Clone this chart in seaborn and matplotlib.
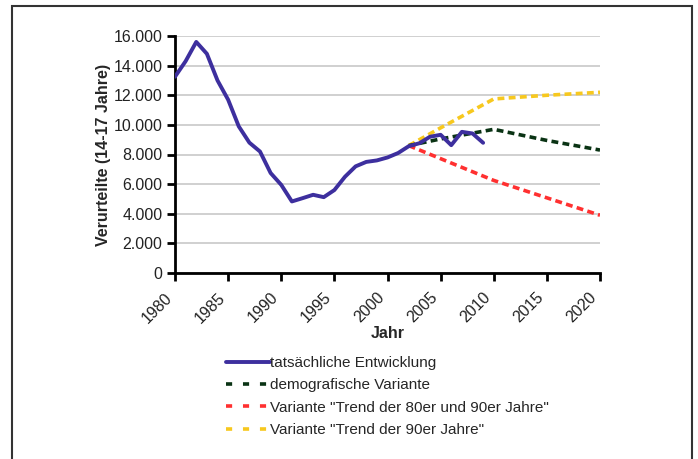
import matplotlib
matplotlib.use("Agg")
import matplotlib.pyplot as plt
import matplotlib.transforms as mtransforms
import seaborn as sns
import pandas as pd
from matplotlib.patches import Rectangle
from matplotlib.ticker import FuncFormatter

# Data
years_actual = [1980, 1981, 1982, 1983, 1984, 1985, 1986, 1987, 1988, 1989,
                1990, 1991, 1992, 1993, 1994, 1995, 1996, 1997, 1998, 1999,
                2000, 2001, 2002, 2003, 2004, 2005, 2006, 2007, 2008, 2009]
actual = [13250, 14300, 15600, 14800, 13000, 11700, 9900, 8800, 8200, 6750,
          5950, 4830, 5050, 5280, 5120, 5600, 6500, 7200, 7500, 7600,
          7800, 8100, 8560, 8760, 9200, 9330, 8630, 9530, 9420, 8790]

years_demo = [2002, 2005, 2010, 2015, 2020]
demo = [8600, 9050, 9700, 8950, 8300]

years_trend8090 = [2002, 2010, 2020]
trend8090 = [8600, 6250, 3900]

years_trend90 = [2002, 2005, 2010, 2015, 2020]
trend90 = [8600, 9800, 11750, 12000, 12200]

labels = ["tatsächliche Entwicklung", "demografische Variante",
          'Variante "Trend der 80er und 90er Jahre"',
          'Variante "Trend der 90er Jahre"']
colors = ["#3d2f9e", "#0a3314", "#ff3030", "#f7c81e"]

sns.set_theme(style="white")
plt.rcParams["font.family"] = ["Liberation Sans", "DejaVu Sans"]

fig = plt.figure(figsize=(6.98, 4.59), dpi=100)
ax = fig.add_axes([175/698, 1-273/459, 425/698, 237/459])

df_a = pd.DataFrame({"Jahr": years_actual, "v": actual})
df_d = pd.DataFrame({"Jahr": years_demo, "v": demo})
df_r = pd.DataFrame({"Jahr": years_trend8090, "v": trend8090})
df_y = pd.DataFrame({"Jahr": years_trend90, "v": trend90})

plot_dash = [1.9, 1.2]
sns.lineplot(data=df_y, x="Jahr", y="v", ax=ax, color=colors[3], lw=2.6,
             label=labels[3], zorder=2).lines[-1].set_dashes(plot_dash)
sns.lineplot(data=df_r, x="Jahr", y="v", ax=ax, color=colors[2], lw=2.6,
             label=labels[2], zorder=2).lines[-1].set_dashes(plot_dash)
sns.lineplot(data=df_d, x="Jahr", y="v", ax=ax, color=colors[1], lw=2.6,
             label=labels[1], zorder=3).lines[-1].set_dashes(plot_dash)
sns.lineplot(data=df_a, x="Jahr", y="v", ax=ax, color=colors[0], lw=2.8,
             label=labels[0], zorder=4)

ax.set_xlim(1980, 2020)
ax.set_ylim(0, 16000)
ax.set_xticks(range(1980, 2021, 5))
ax.set_yticks(range(0, 16001, 2000))
ax.yaxis.set_major_formatter(FuncFormatter(lambda v, p: f"{int(v):,}".replace(",", ".")))
ax.grid(axis="y", color="#c8c8c8", lw=1.2)
ax.set_axisbelow(True)
for s in ["top", "right"]:
    ax.spines[s].set_visible(False)
for s in ["left", "bottom"]:
    ax.spines[s].set_color("black")
    ax.spines[s].set_linewidth(2)
ax.tick_params(axis="both", direction="out", length=6, width=2, color="black",
               labelsize=11.5, labelcolor="#222222")
ax.tick_params(axis="x", bottom=True, pad=9)
ax.tick_params(axis="y", left=True, pad=3)
offset = mtransforms.ScaledTranslation(-11/100, 4/100, fig.dpi_scale_trans)
for lab in ax.get_xticklabels():
    lab.set_rotation(45)
    lab.set_ha("right")
    lab.set_va("top")
    lab.set_rotation_mode("anchor")
    lab.set_transform(lab.get_transform() + offset)
ax.set_xlabel("Jahr", fontsize=11.5, fontweight="bold", va="center")
ax.set_ylabel("Verurteilte (14-17 Jahre)", fontsize=11.5, fontweight="bold", labelpad=2)
ax.xaxis.set_label_coords(0.5, -(334 - 273) / 237)

handles, labs = ax.get_legend_handles_labels()
order = [labs.index(l) for l in labels]
leg = ax.legend([handles[i] for i in order], [labs[i] for i in order],
                loc="upper left", bbox_to_anchor=(226/698, 1-356/459),
                bbox_transform=fig.transFigure, frameon=False, fontsize=11,
                handlelength=2.85, handletextpad=0.05, labelspacing=0.55,
                borderaxespad=0, borderpad=0)
for ln in leg.get_lines()[1:]:
    ln.set_dashes([1.7, 3.0])

fig.patches.append(Rectangle((12/698, -0.05), 680/698, 1.05 - 6/459,
                             transform=fig.transFigure, fill=False,
                             edgecolor="#333333", lw=1.5))

fig.savefig("out.png", dpi=100)
